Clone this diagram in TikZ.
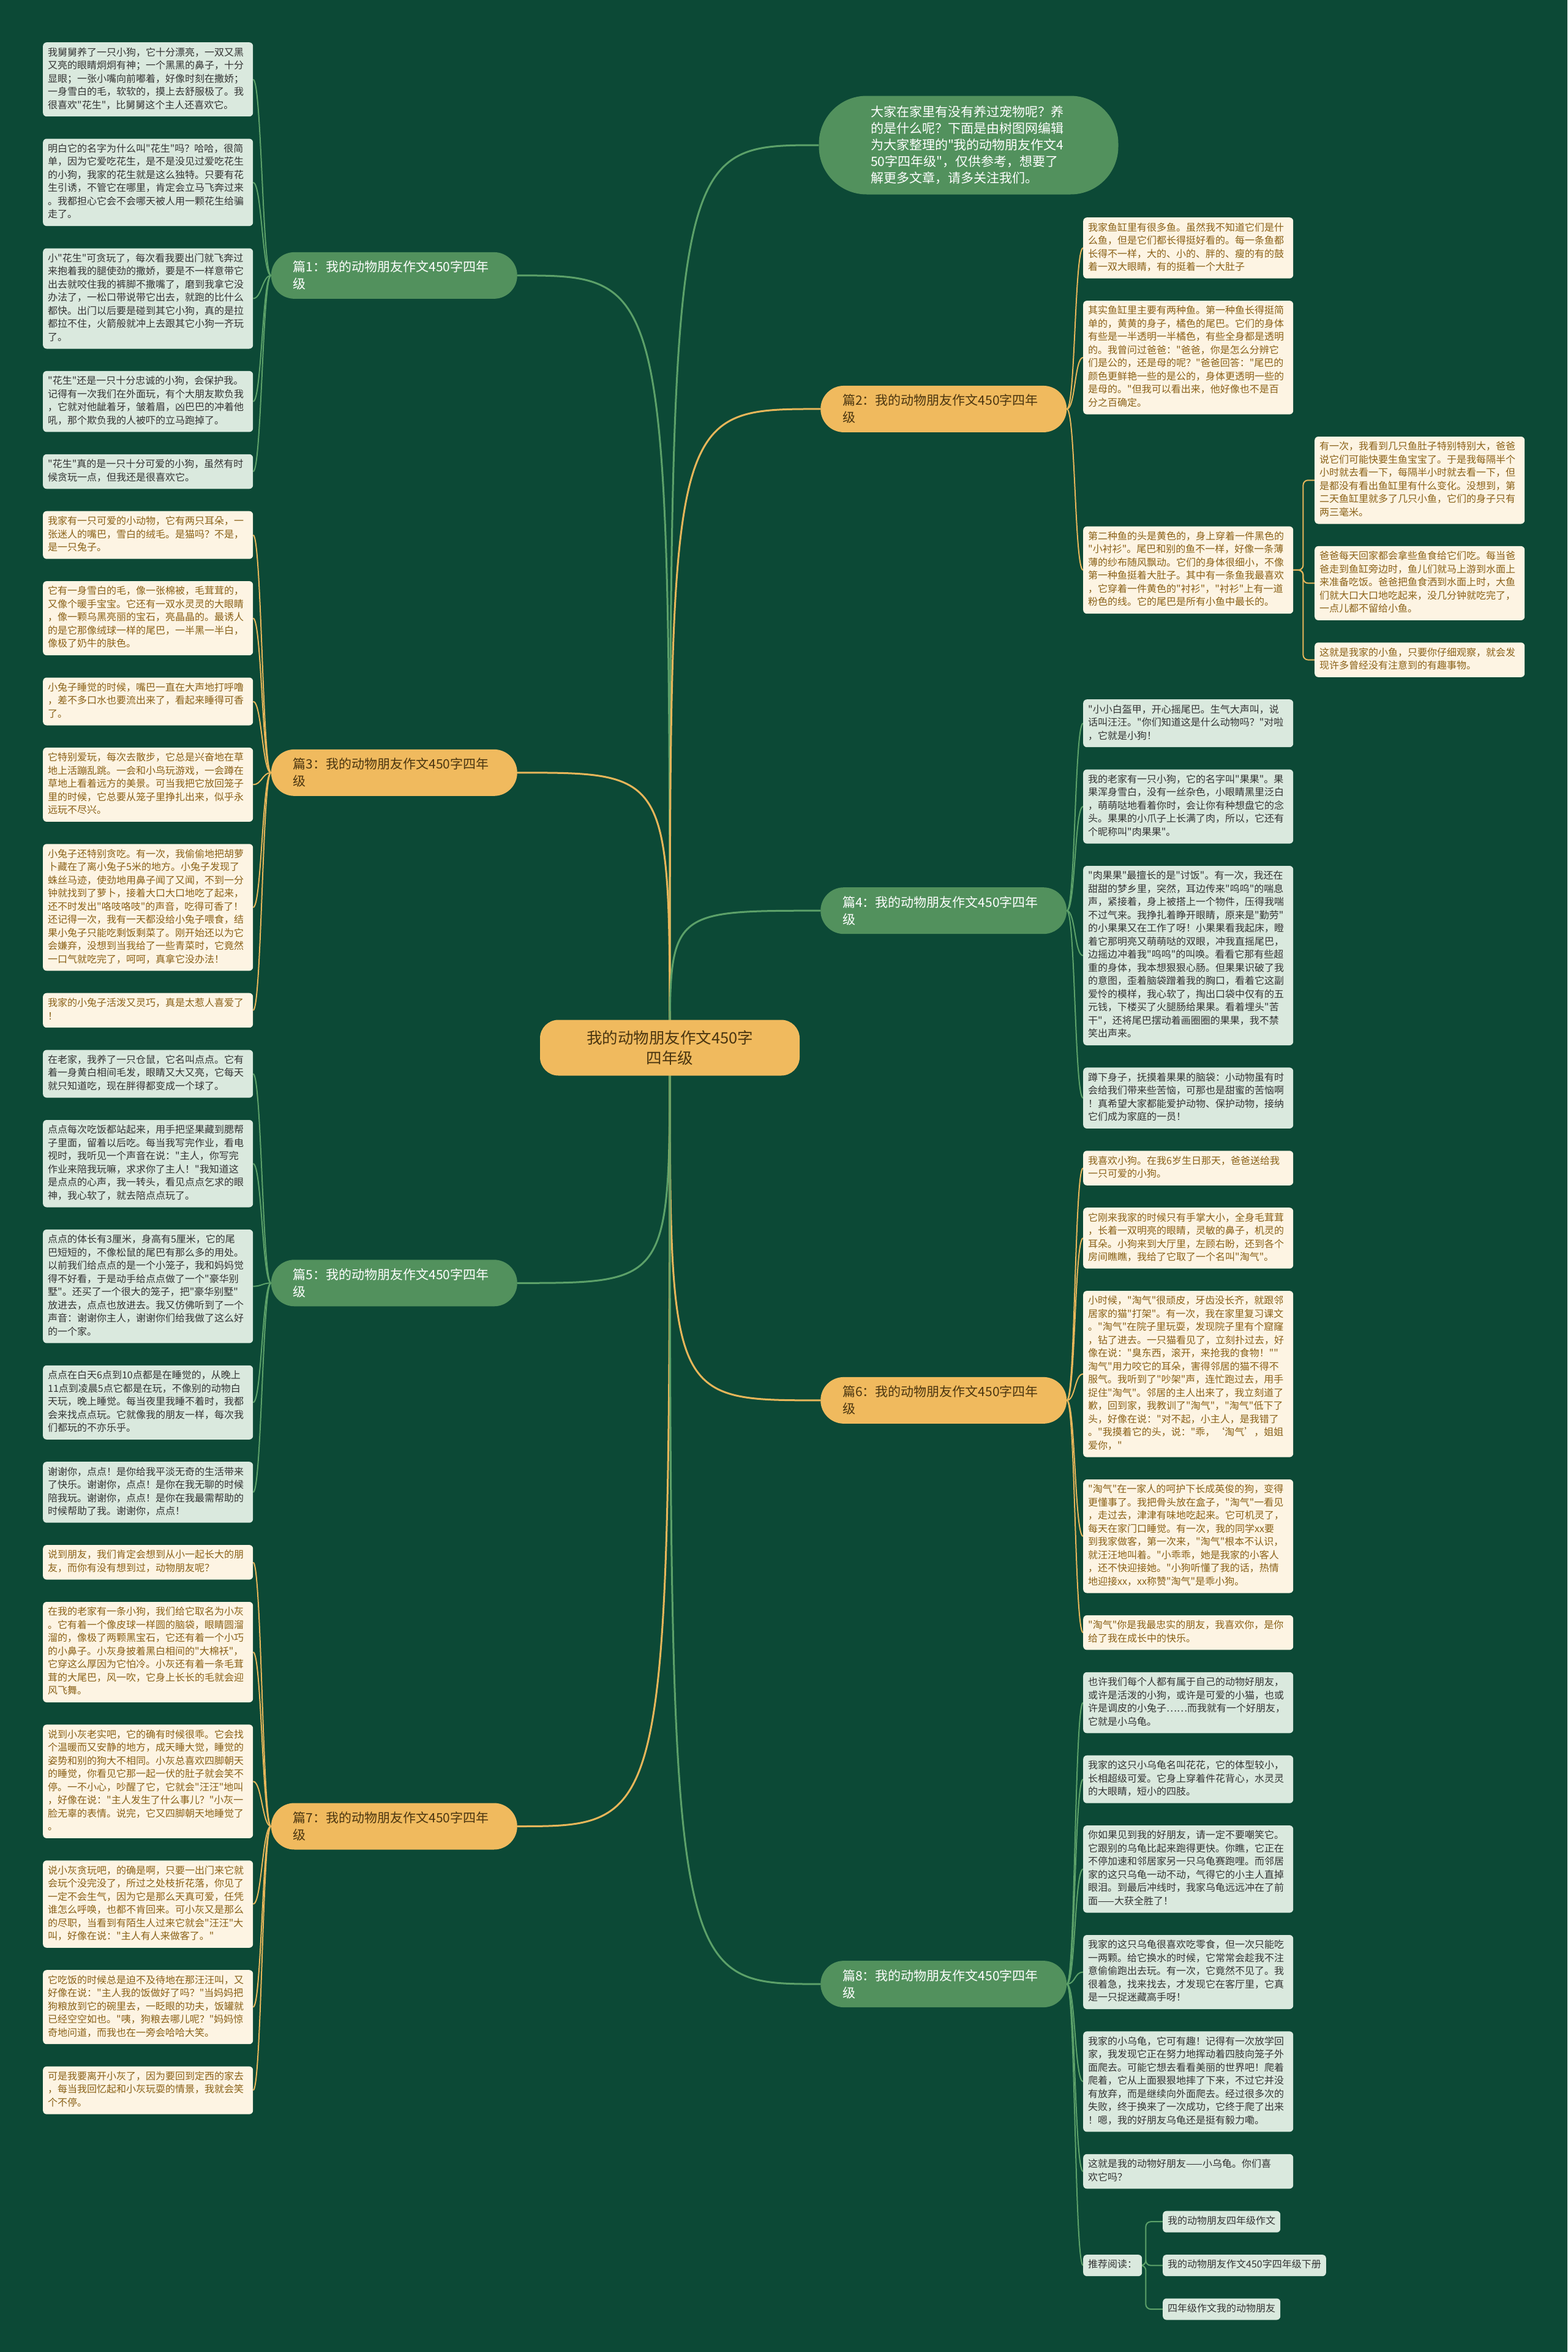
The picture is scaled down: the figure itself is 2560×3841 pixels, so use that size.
\documentclass[tikz,border=0pt]{standalone}
\usepackage{fontspec}
\setmainfont{Noto Sans CJK SC}[Ligatures=TeXOff]
\usetikzlibrary{positioning,calc,backgrounds}

\definecolor{bgdark}{RGB}{12,73,54}
\definecolor{gfill}{RGB}{82,145,93}
\definecolor{ofill}{RGB}{240,186,94}
\definecolor{otopictx}{RGB}{74,53,16}
\definecolor{gleafbg}{RGB}{218,233,222}
\definecolor{gleaftx}{RGB}{51,51,51}
\definecolor{oleafbg}{RGB}{253,244,227}
\definecolor{oleaftx}{RGB}{138,97,23}
\definecolor{glinec}{RGB}{92,161,105}
\definecolor{olinec}{RGB}{231,182,90}

\newcommand{\leaffont}{\fontsize{16pt}{21.5pt}\selectfont}
\newcommand{\topicfont}{\fontsize{21pt}{28pt}\selectfont}
\newcommand{\rootfont}{\fontsize{25.5pt}{33pt}\selectfont}
\newcommand{\introfont}{\fontsize{21pt}{27pt}\selectfont}

\tikzset{
  leaf/.style={rounded corners=6pt, text width=327pt, inner xsep=8pt, inner ysep=6.75pt,
    align=left, font=\leaffont, execute at begin node=\strut, execute at end node=\strut},
  gleaf/.style={leaf, fill=gleafbg, text=gleaftx},
  oleaf/.style={leaf, fill=oleafbg, text=oleaftx},
  rec/.style={rounded corners=6pt, fill=gleafbg, text=gleaftx, font=\leaffont,
    inner xsep=8pt, inner ysep=6.75pt, execute at begin node=\strut},
  topic/.style={rounded corners=38pt, text width=330pt, inner xsep=36pt,
    minimum height=76pt, align=left, font=\topicfont},
  gtopic/.style={topic, fill=gfill, text=white},
  otopic/.style={topic, fill=ofill, text=otopictx},
  gline/.style={draw=glinec, line width=2pt},
  oline/.style={draw=olinec, line width=2pt},
}

\begin{document}
\begin{tikzpicture}[x=1pt,y=-1pt,node distance=36pt]
\useasboundingbox (0,0) rectangle (2560,3841);

% centre and intro
\node[fill=ofill, text=otopictx, rounded corners=30pt, minimum width=424pt, minimum height=91pt,
  align=center, font=\rootfont] (root) at (1094,1711) {我的动物朋友作文450字\\四年级};
\node[fill=gfill, text=white, rounded corners=78pt, minimum width=489pt, minimum height=161pt,
  text width=320pt, align=left, font=\introfont] (intro) at (1582,237)
  {大家在家里有没有养过宠物呢？养\\的是什么呢？下面是由树图网编辑\\为大家整理的"我的动物朋友作文4\\50字四年级"，仅供参考，想要了\\解更多文章，请多关注我们。};

% left column
\node[gleaf, anchor=north west] (l1) at (70,69) {我舅舅养了一只小狗，它十分漂亮，一双又黑\\又亮的眼睛炯炯有神；一个黑黑的鼻子，十分\\显眼；一张小嘴向前嘟着，好像时刻在撒娇；\\一身雪白的毛，软软的，摸上去舒服极了。我\\很喜欢"花生"，比舅舅这个主人还喜欢它。};
\node[gleaf, below=of l1] (l2) {明白它的名字为什么叫"花生"吗？哈哈，很简\\单，因为它爱吃花生，是不是没见过爱吃花生\\的小狗，我家的花生就是这么独特。只要有花\\生引诱，不管它在哪里，肯定会立马飞奔过来\\。我都担心它会不会哪天被人用一颗花生给骗\\走了。};
\node[gleaf, below=of l2] (l3) {小"花生"可贪玩了，每次看我要出门就飞奔过\\来抱着我的腿使劲的撒娇，要是不一样意带它\\出去就咬住我的裤脚不撒嘴了，磨到我拿它没\\办法了，一松口带说带它出去，就跑的比什么\\都快。出门以后要是碰到其它小狗，真的是拉\\都拉不住，火箭般就冲上去跟其它小狗一齐玩\\了。};
\node[gleaf, below=of l3] (l4) {"花生"还是一只十分忠诚的小狗，会保护我。\\记得有一次我们在外面玩，有个大朋友欺负我\\，它就对他龇着牙，皱着眉，凶巴巴的冲着他\\吼，那个欺负我的人被吓的立马跑掉了。};
\node[gleaf, below=of l4] (l5) {"花生"真的是一只十分可爱的小狗，虽然有时\\候贪玩一点，但我还是很喜欢它。};
\node[oleaf, below=of l5] (l6) {我家有一只可爱的小动物，它有两只耳朵，一\\张迷人的嘴巴，雪白的绒毛。是猫吗？不是，\\是一只兔子。};
\node[oleaf, below=of l6] (l7) {它有一身雪白的毛，像一张棉被，毛茸茸的，\\又像个暖手宝宝。它还有一双水灵灵的大眼睛\\，像一颗乌黑亮丽的宝石，亮晶晶的。最诱人\\的是它那像绒球一样的尾巴，一半黑一半白，\\像极了奶牛的肤色。};
\node[oleaf, below=of l7] (l8) {小兔子睡觉的时候，嘴巴一直在大声地打呼噜\\，差不多口水也要流出来了，看起来睡得可香\\了。};
\node[oleaf, below=of l8] (l9) {它特别爱玩，每次去散步，它总是兴奋地在草\\地上活蹦乱跳。一会和小鸟玩游戏，一会蹲在\\草地上看着远方的美景。可当我把它放回笼子\\里的时候，它总要从笼子里挣扎出来，似乎永\\远玩不尽兴。};
\node[oleaf, below=of l9] (l10) {小兔子还特别贪吃。有一次，我偷偷地把胡萝\\卜藏在了离小兔子5米的地方。小兔子发现了\\蛛丝马迹，使劲地用鼻子闻了又闻，不到一分\\钟就找到了萝卜，接着大口大口地吃了起来，\\还不时发出"咯吱咯吱"的声音，吃得可香了！\\还记得一次，我有一天都没给小兔子喂食，结\\果小兔子只能吃剩饭剩菜了。刚开始还以为它\\会嫌弃，没想到当我给了一些青菜时，它竟然\\一口气就吃完了，呵呵，真拿它没办法！};
\node[oleaf, below=of l10] (l11) {我家的小兔子活泼又灵巧，真是太惹人喜爱了\\！};
\node[gleaf, below=of l11] (l12) {在老家，我养了一只仓鼠，它名叫点点。它有\\着一身黄白相间毛发，眼睛又大又亮，它每天\\就只知道吃，现在胖得都变成一个球了。};
\node[gleaf, below=of l12] (l13) {点点每次吃饭都站起来，用手把坚果藏到腮帮\\子里面，留着以后吃。每当我写完作业，看电\\视时，我听见一个声音在说："主人，你写完\\作业来陪我玩嘛，求求你了主人！"我知道这\\是点点的心声，我一转头，看见点点乞求的眼\\神，我心软了，就去陪点点玩了。};
\node[gleaf, below=of l13] (l14) {点点的体长有3厘米，身高有5厘米，它的尾\\巴短短的，不像松鼠的尾巴有那么多的用处。\\以前我们给点点的是一个小笼子，我和妈妈觉\\得不好看，于是动手给点点做了一个"豪华别\\墅"。还买了一个很大的笼子，把"豪华别墅"\\放进去，点点也放进去。我又仿佛听到了一个\\声音：谢谢你主人，谢谢你们给我做了这么好\\的一个家。};
\node[gleaf, below=of l14] (l15) {点点在白天6点到10点都是在睡觉的，从晚上\\11点到凌晨5点它都是在玩，不像别的动物白\\天玩，晚上睡觉。每当夜里我睡不着时，我都\\会来找点点玩。它就像我的朋友一样，每次我\\们都玩的不亦乐乎。};
\node[gleaf, below=of l15] (l16) {谢谢你，点点！是你给我平淡无奇的生活带来\\了快乐。谢谢你，点点！是你在我无聊的时候\\陪我玩。谢谢你，点点！是你在我最需帮助的\\时候帮助了我。谢谢你，点点！};
\node[oleaf, below=of l16] (l17) {说到朋友，我们肯定会想到从小一起长大的朋\\友，而你有没有想到过，动物朋友呢？};
\node[oleaf, below=of l17] (l18) {在我的老家有一条小狗，我们给它取名为小灰\\。它有着一个像皮球一样圆的脑袋，眼睛圆溜\\溜的，像极了两颗黑宝石，它还有着一个小巧\\的小鼻子。小灰身披着黑白相间的"大棉袄"，\\它穿这么厚因为它怕冷。小灰还有着一条毛茸\\茸的大尾巴，风一吹，它身上长长的毛就会迎\\风飞舞。};
\node[oleaf, below=of l18] (l19) {说到小灰老实吧，它的确有时候很乖。它会找\\个温暖而又安静的地方，成天睡大觉，睡觉的\\姿势和别的狗大不相同。小灰总喜欢四脚朝天\\的睡觉，你看见它那一起一伏的肚子就会笑不\\停。一不小心，吵醒了它，它就会"汪汪"地叫\\，好像在说："主人发生了什么事儿？"小灰一\\脸无辜的表情。说完，它又四脚朝天地睡觉了\\。};
\node[oleaf, below=of l19] (l20) {说小灰贪玩吧，的确是啊，只要一出门来它就\\会玩个没完没了，所过之处枝折花落，你见了\\一定不会生气，因为它是那么天真可爱，任凭\\谁怎么呼唤，也都不肯回来。可小灰又是那么\\的尽职，当看到有陌生人过来它就会"汪汪"大\\叫，好像在说："主人有人来做客了。"};
\node[oleaf, below=of l20] (l21) {它吃饭的时候总是迫不及待地在那汪汪叫，又\\好像在说："主人我的饭做好了吗？"当妈妈把\\狗粮放到它的碗里去，一眨眼的功夫，饭罐就\\已经空空如也。"咦，狗粮去哪儿呢？"妈妈惊\\奇地问道，而我也在一旁会哈哈大笑。};
\node[oleaf, below=of l21] (l22) {可是我要离开小灰了，因为要回到定西的家去\\，每当我回忆起和小灰玩耍的情景，我就会笑\\个不停。};

% right column
\node[oleaf, anchor=north west] (r1) at (1769,355) {我家鱼缸里有很多鱼。虽然我不知道它们是什\\么鱼，但是它们都长得挺好看的。每一条鱼都\\长得不一样，大的、小的、胖的、瘦的有的鼓\\着一双大眼睛，有的挺着一个大肚子};
\node[oleaf, below=of r1] (r2) {其实鱼缸里主要有两种鱼。第一种鱼长得挺简\\单的，黄黄的身子，橘色的尾巴。它们的身体\\有些是一半透明一半橘色，有些全身都是透明\\的。我曾问过爸爸："爸爸，你是怎么分辨它\\们是公的，还是母的呢？"爸爸回答："尾巴的\\颜色更鲜艳一些的是公的，身体更透明一些的\\是母的。"但我可以看出来，他好像也不是百\\分之百确定。};
\node[oleaf, below right=36pt and 378pt of r2.south west] (r3a) {有一次，我看到几只鱼肚子特别特别大，爸爸\\说它们可能快要生鱼宝宝了。于是我每隔半个\\小时就去看一下，每隔半小时就去看一下，但\\是都没有看出鱼缸里有什么变化。没想到，第\\二天鱼缸里就多了几只小鱼，它们的身子只有\\两三毫米。};
\node[oleaf, below=of r3a] (r3b) {爸爸每天回家都会拿些鱼食给它们吃。每当爸\\爸走到鱼缸旁边时，鱼儿们就马上游到水面上\\来准备吃饭。爸爸把鱼食洒到水面上时，大鱼\\们就大口大口地吃起来，没几分钟就吃完了，\\一点儿都不留给小鱼。};
\node[oleaf, below=of r3b] (r3c) {这就是我家的小鱼，只要你仔细观察，就会发\\现许多曾经没有注意到的有趣事物。};
\coordinate (r3mid) at ($(r3a.west)!0.5!(r3c.west)$);
\node[oleaf, anchor=west] (r3) at (r2.west |- r3mid) {第二种鱼的头是黄色的，身上穿着一件黑色的\\"小衬衫"。尾巴和别的鱼不一样，好像一条薄\\薄的纱布随风飘动。它们的身体很细小，不像\\第一种鱼挺着大肚子。其中有一条鱼我最喜欢\\，它穿着一件黄色的"衬衫"，"衬衫"上有一道\\粉色的线。它的尾巴是所有小鱼中最长的。};
\coordinate (r3end) at ([yshift=-36pt]r3c.south);
\node[gleaf, anchor=north west] (r4) at (r3end -| r2.west) {"小小白盔甲，开心摇尾巴。生气大声叫，说\\话叫汪汪。"你们知道这是什么动物吗？"对啦\\，它就是小狗！};
\node[gleaf, below=of r4] (r5) {我的老家有一只小狗，它的名字叫"果果"。果\\果浑身雪白，没有一丝杂色，小眼睛黑里泛白\\，萌萌哒地看着你时，会让你有种想盘它的念\\头。果果的小爪子上长满了肉，所以，它还有\\个昵称叫"肉果果"。};
\node[gleaf, below=of r5] (r6) {"肉果果"最擅长的是"讨饭"。有一次，我还在\\甜甜的梦乡里，突然，耳边传来"呜呜"的喘息\\声，紧接着，身上被搭上一个物件，压得我喘\\不过气来。我挣扎着睁开眼睛，原来是"勤劳"\\的小果果又在工作了呀！小果果看我起床，瞪\\着它那明亮又萌萌哒的双眼，冲我直摇尾巴，\\边摇边冲着我"呜呜"的叫唤。看看它那有些超\\重的身体，我本想狠狠心肠。但果果识破了我\\的意图，歪着脑袋蹭着我的胸口，看着它这副\\爱怜的模样，我心软了，掏出口袋中仅有的五\\元钱，下楼买了火腿肠给果果。看着埋头"苦\\干"，还将尾巴摆动着画圈圈的果果，我不禁\\笑出声来。};
\node[gleaf, below=of r6] (r7) {蹲下身子，抚摸着果果的脑袋：小动物虽有时\\会给我们带来些苦恼，可那也是甜蜜的苦恼啊\\！真希望大家都能爱护动物、保护动物，接纳\\它们成为家庭的一员！};
\node[oleaf, below=of r7] (r8) {我喜欢小狗。在我6岁生日那天，爸爸送给我\\一只可爱的小狗。};
\node[oleaf, below=of r8] (r9) {它刚来我家的时候只有手掌大小，全身毛茸茸\\，长着一双明亮的眼睛，灵敏的鼻子，机灵的\\耳朵。小狗来到大厅里，左顾右盼，还到各个\\房间瞧瞧，我给了它取了一个名叫"淘气"。};
\node[oleaf, below=of r9] (r10) {小时候，"淘气"很顽皮，牙齿没长齐，就跟邻\\居家的猫"打架"。有一次，我在家里复习课文\\。"淘气"在院子里玩耍，发现院子里有个窟窿\\，钻了进去。一只猫看见了，立刻扑过去，好\\像在说："臭东西，滚开，来抢我的食物！""\\淘气"用力咬它的耳朵，害得邻居的猫不得不\\服气。我听到了"吵架"声，连忙跑过去，用手\\捉住"淘气"。邻居的主人出来了，我立刻道了\\歉，回到家，我教训了"淘气"，"淘气"低下了\\头，好像在说："对不起，小主人，是我错了\\。"我摸着它的头，说："乖，‘淘气’，姐姐\\爱你，"};
\node[oleaf, below=of r10] (r11) {"淘气"在一家人的呵护下长成英俊的狗，变得\\更懂事了。我把骨头放在盒子，"淘气"一看见\\，走过去，津津有味地吃起来。它可机灵了，\\每天在家门口睡觉。有一次，我的同学xx要\\到我家做客，第一次来，"淘气"根本不认识，\\就汪汪地叫着。"小乖乖，她是我家的小客人\\，还不快迎接她。"小狗听懂了我的话，热情\\地迎接xx，xx称赞"淘气"是乖小狗。};
\node[oleaf, below=of r11] (r12) {"淘气"你是我最忠实的朋友，我喜欢你，是你\\给了我在成长中的快乐。};
\node[gleaf, below=of r12] (r13) {也许我们每个人都有属于自己的动物好朋友，\\或许是活泼的小狗，或许是可爱的小猫，也或\\许是调皮的小兔子……而我就有一个好朋友，\\它就是小乌龟。};
\node[gleaf, below=of r13] (r14) {我家的这只小乌龟名叫花花，它的体型较小，\\长相超级可爱。它身上穿着件花背心，水灵灵\\的大眼睛，短小的四肢。};
\node[gleaf, below=of r14] (r15) {你如果见到我的好朋友，请一定不要嘲笑它。\\它跟别的乌龟比起来跑得更快。你瞧，它正在\\不停加速和邻居家另一只乌龟赛跑哩。而邻居\\家的这只乌龟一动不动，气得它的小主人直掉\\眼泪。到最后冲线时，我家乌龟远远冲在了前\\面——大获全胜了！};
\node[gleaf, below=of r15] (r16) {我家的这只乌龟很喜欢吃零食，但一次只能吃\\一两颗。给它换水的时候，它常常会趁我不注\\意偷偷跑出去玩。有一次，它竟然不见了。我\\很着急，找来找去，才发现它在客厅里，它真\\是一只捉迷藏高手呀！};
\node[gleaf, below=of r16] (r17) {我家的小乌龟，它可有趣！记得有一次放学回\\家，我发现它正在努力地挥动着四肢向笼子外\\面爬去。可能它想去看看美丽的世界吧！爬着\\爬着，它从上面狠狠地摔了下来，不过它并没\\有放弃，而是继续向外面爬去。经过很多次的\\失败，终于换来了一次成功，它终于爬了出来\\！嗯，我的好朋友乌龟还是挺有毅力嘞。};
\node[gleaf, below=of r17] (r18) {这就是我的动物好朋友——小乌龟。你们喜\\欢它吗？};
\node[rec, below right=36pt and 130pt of r18.south west] (s1) {我的动物朋友四年级作文};
\node[rec, below=of s1.south west, anchor=north west] (s2) {我的动物朋友作文450字四年级下册};
\node[rec, below=of s2.south west, anchor=north west] (s3) {四年级作文我的动物朋友};
\coordinate (smid) at ($(s1.west)!0.5!(s3.west)$);
\node[rec, anchor=west] (r19) at (r18.west |- smid) {推荐阅读：};

% topics
\coordinate (tl) at (845,0);
\coordinate (tr) at (1340,0);
\coordinate (c1) at ($(l1.east)!0.5!(l5.east)$);
\coordinate (c3) at ($(l6.east)!0.5!(l11.east)$);
\coordinate (c5) at ($(l12.east)!0.5!(l16.east)$);
\coordinate (c7) at ($(l17.east)!0.5!(l22.east)$);
\coordinate (c2) at ($(r1.west)!0.5!(r3.west)$);
\coordinate (c4) at ($(r4.west)!0.5!(r7.west)$);
\coordinate (c6) at ($(r8.west)!0.5!(r12.west)$);
\coordinate (c8) at ($(r13.west)!0.5!(r19.west)$);
\node[gtopic, anchor=east] (t1) at (c1 -| tl) {篇1：我的动物朋友作文450字四年\\级};
\node[otopic, anchor=east] (t3) at (c3 -| tl) {篇3：我的动物朋友作文450字四年\\级};
\node[gtopic, anchor=east] (t5) at (c5 -| tl) {篇5：我的动物朋友作文450字四年\\级};
\node[otopic, anchor=east] (t7) at (c7 -| tl) {篇7：我的动物朋友作文450字四年\\级};
\node[otopic, anchor=west] (t2) at (c2 -| tr) {篇2：我的动物朋友作文450字四年\\级};
\node[gtopic, anchor=west] (t4) at (c4 -| tr) {篇4：我的动物朋友作文450字四年\\级};
\node[otopic, anchor=west] (t6) at (c6 -| tr) {篇6：我的动物朋友作文450字四年\\级};
\node[gtopic, anchor=west] (t8) at (c8 -| tr) {篇8：我的动物朋友作文450字四年\\级};

\begin{pgfonlayer}{background}
\fill[bgdark] (0,0) rectangle (2560,3841);
% root to topics
\draw[gline, line width=3pt] (root.center) .. controls (root.center |- intro.west) .. (intro.west);
\foreach \t/\s in {t1/gline, t3/oline, t5/gline, t7/oline}
  \draw[\s, line width=3pt] (root.center) .. controls (root.center |- \t.east) .. (\t.east);
\foreach \t/\s in {t2/oline, t4/gline, t6/oline, t8/gline}
  \draw[\s, line width=3pt] (root.center) .. controls (root.center |- \t.west) .. (\t.west);
% topics to leaves
\foreach \t/\s/\l in {t1/gline/l1, t1/gline/l2, t1/gline/l3, t1/gline/l4, t1/gline/l5,
    t3/oline/l6, t3/oline/l7, t3/oline/l8, t3/oline/l9, t3/oline/l10, t3/oline/l11,
    t5/gline/l12, t5/gline/l13, t5/gline/l14, t5/gline/l15, t5/gline/l16,
    t7/oline/l17, t7/oline/l18, t7/oline/l19, t7/oline/l20, t7/oline/l21, t7/oline/l22}
  \draw[\s] (\t.west) .. controls +(-14pt,0) and +(14pt,0) .. (\l.east);
\foreach \t/\s/\l in {t2/oline/r1, t2/oline/r2, t2/oline/r3,
    t4/gline/r4, t4/gline/r5, t4/gline/r6, t4/gline/r7,
    t6/oline/r8, t6/oline/r9, t6/oline/r10, t6/oline/r11, t6/oline/r12,
    t8/gline/r13, t8/gline/r14, t8/gline/r15, t8/gline/r16, t8/gline/r17, t8/gline/r18, t8/gline/r19}
  \draw[\s] (\t.east) .. controls +(14pt,0) and +(-14pt,0) .. (\l.west);
% elbows
\foreach \l in {r3a, r3b, r3c}
  \draw[oline, rounded corners=8pt] (r3.east) -- ++(16pt,0) |- (\l.west);
\foreach \l in {s1, s2, s3}
  \draw[gline, rounded corners=8pt] (r19.east) -- ++(6pt,0) |- (\l.west);
\end{pgfonlayer}
\end{tikzpicture}
\end{document}
